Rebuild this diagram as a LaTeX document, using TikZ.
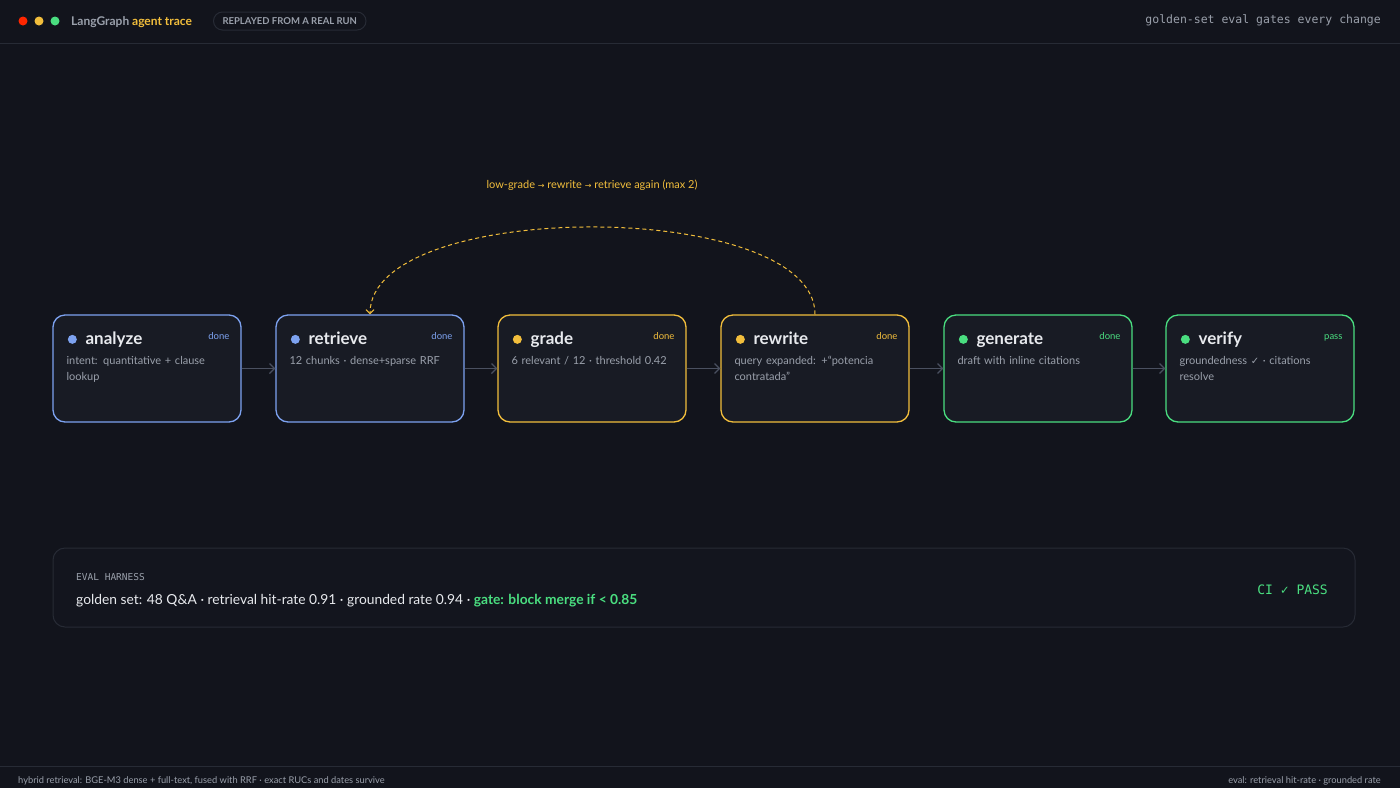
\documentclass[tikz,border=0pt]{standalone}
\usepackage{fontspec}
\setmainfont{Lato}
\newfontfamily\monof{DejaVu Sans Mono}
\newfontfamily\symf{DejaVu Sans}
\usetikzlibrary{arrows.meta}
\definecolor{bg}{HTML}{12141C}
\definecolor{card}{HTML}{181B24}
\definecolor{cblue}{HTML}{7DA2F0}
\definecolor{cyel}{HTML}{F2BE3C}
\definecolor{cgrn}{HTML}{4ADE80}
\definecolor{txt}{HTML}{E8EAEE}
\definecolor{dim}{HTML}{9AA0AB}
\definecolor{edge}{HTML}{4A5060}
\definecolor{rule}{HTML}{272B35}
\tikzset{
  card/.style={draw=#1, line width=1.3pt, fill=card, rounded corners=12pt, minimum width=188pt, minimum height=107pt, inner sep=0pt},
  ttl/.style={anchor=base west, font=\fontsize{17}{18}\selectfont\bfseries, text=txt},
  st/.style={anchor=base east, font=\fontsize{9.5}{10}\selectfont, text=#1},
  desc/.style={anchor=north west, font=\fontsize{11}{15.5}\selectfont, text=dim, align=left, text width=165pt},
  flow/.style={draw=edge, line width=1.2pt, -{Straight Barb[length=5pt,width=10pt]}},
}
\begin{document}
\lefthyphenmin=62 \righthyphenmin=62
\begin{tikzpicture}[x=1pt,y=-1pt]
\fill[bg] (0,0) rectangle (1400,788);
\useasboundingbox (0,0) rectangle (1400,788);
% top bar
\draw[rule] (0,43.5) -- (1400,43.5);
\fill[red!70!orange] (23,21) circle (4.5);
\fill[cyel] (39,21) circle (4.5);
\fill[cgrn] (55,21) circle (4.5);
\node[anchor=west, font=\fontsize{12}{13}\selectfont\bfseries, inner sep=0] (brand) at (71,22) {\textcolor{dim}{LangGraph} \textcolor{cyel}{agent trace}};
\node[draw=rule, line width=1pt, rounded corners=9pt, anchor=west, font=\fontsize{9.5}{10}\selectfont\bfseries, text=dim, minimum height=18pt, inner xsep=9pt] (badge) at (213,21) {REPLAYED FROM A REAL RUN};
\node[anchor=east, font=\monof\fontsize{11.5}{12}\selectfont, text=dim, inner sep=0] (tr) at (1381,20) {golden-set eval gates every change};
% cards
\foreach \n/\x/\c/\t/\s/\d in {
 a/147/cblue/analyze/done/{intent: quantitative + clause lookup},
 b/370/cblue/retrieve/done/{12 chunks · dense+sparse RRF},
 c/592/cyel/grade/done/{6 relevant / 12 · threshold 0.42},
 d/815/cyel/rewrite/done/{query expanded: +“potencia contratada”},
 e/1038/cgrn/generate/done/{draft with inline citations},
 f/1260/cgrn/verify/pass/{groundedness {\symf\fontsize{10}{15.5}\selectfont ✓} · citations resolve}}{
  \node[card=\c] (\n) at (\x,368.5) {};
  \fill[\c] ([xshift=20pt,yshift=-25pt]\n.north west) circle (4.5);
  \node[ttl, inner sep=0] (\n t) at ([xshift=33pt,yshift=-30pt]\n.north west) {\t};
  \node[st=\c, inner sep=0] (\n s) at ([xshift=-12pt,yshift=-25pt]\n.north east) {\s};
  \node[desc, inner sep=0] (\n d) at ([xshift=14pt,yshift=-42pt]\n.north west) {\d};
}
\foreach \p/\q in {a/b,b/c,c/d,d/e,e/f} \draw[flow] (\p) -- (\q);
% loop
\draw[cyel, line width=1pt, dash pattern=on 4pt off 3pt, -{Straight Barb[length=4pt,width=8pt]}] (d.north) .. controls (815,198) and (370,198) .. (b.north);
\node[font=\fontsize{11}{12}\selectfont, text=cyel] (lbl) at (592,185) {low-grade {\symf\fontsize{8}{9}\selectfont →} rewrite {\symf\fontsize{8}{9}\selectfont →} retrieve again (max 2)};
% eval harness
\node[draw=rule, line width=1pt, fill=bg!80!card, rounded corners=12pt, minimum width=1302pt, minimum height=79pt, inner sep=0] (ev) at (704,587.5) {};
\node[anchor=west, inner sep=0, font=\monof\fontsize{9.5}{10}\selectfont, text=dim] (evt) at (76,577) {EVAL HARNESS};
\node[anchor=west, inner sep=0, font=\fontsize{13.8}{14}\selectfont, text=txt] (evl) at (76,601) {golden set: 48 Q\&A · retrieval hit-rate 0.91 · grounded rate 0.94 · \textcolor{cgrn}{\bfseries gate: block merge if < 0.85}};
\node[anchor=east, inner sep=0, font=\monof\fontsize{13}{14}\selectfont, text=cgrn] (ci) at (1328,590) {CI ✓ PASS};
% footer
\draw[rule] (0,766.5) -- (1400,766.5);
\node[anchor=west, inner sep=0, font=\fontsize{9.3}{10}\selectfont, text=dim] (fl) at (18,781) {hybrid retrieval: BGE-M3 dense + full-text, fused with RRF · exact RUCs and dates survive};
\node[anchor=east, inner sep=0, font=\fontsize{9.3}{10}\selectfont, text=dim] (fr) at (1381,781) {eval: retrieval hit-rate · grounded rate};
\end{tikzpicture}
\end{document}
